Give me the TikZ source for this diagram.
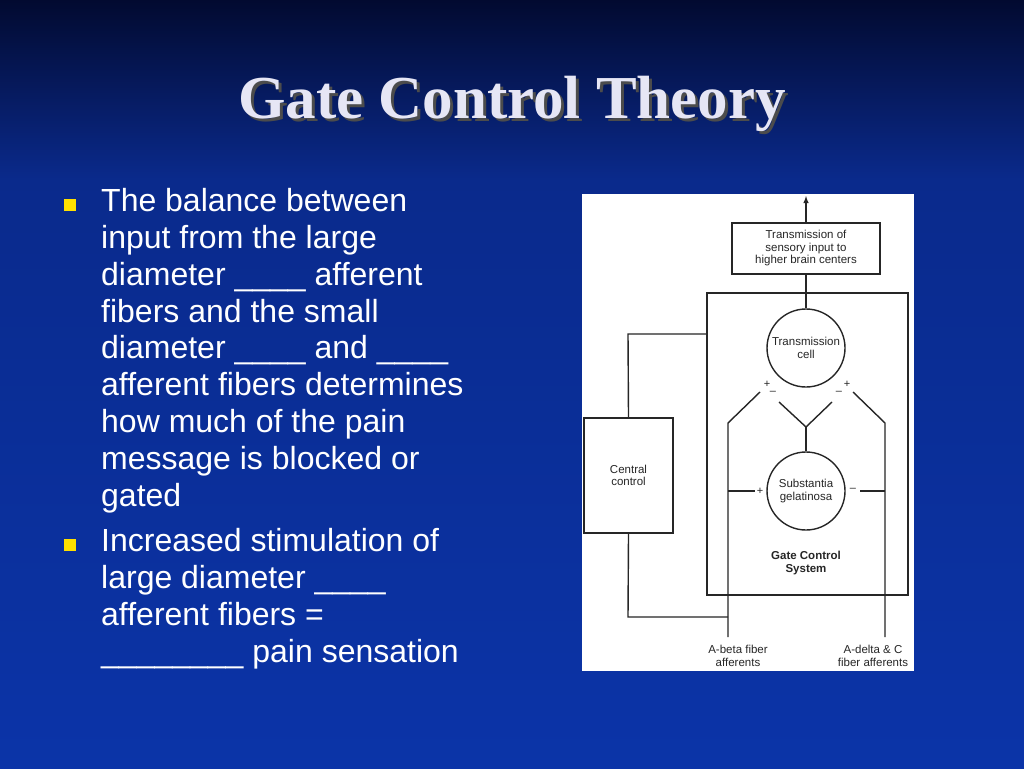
\documentclass[tikz,border=0pt]{standalone}
\usepackage{fontspec}
\setmainfont{Liberation Sans}
\newfontfamily\titlefont{Liberation Serif}
\definecolor{bgtop}{HTML}{020A30}
\definecolor{bgmid}{HTML}{0A2A8C}
\definecolor{bgbot}{HTML}{0B34A8}
\definecolor{titlec}{HTML}{E6E6F5}
\definecolor{bul}{HTML}{FFE000}
\begin{document}
\begin{tikzpicture}[x=1pt,y=-1pt,
  btxt/.style={anchor=west,text=white,font=\fontsize{32}{33}\selectfont,inner sep=0pt},
  ln/.style={line width=1.4pt,black!85},
  dtxt/.style={font=\fontsize{11.5}{12.5}\selectfont,text=black!85,align=center,inner sep=0pt},
  sgn/.style={font=\fontsize{11}{11}\selectfont,text=black!85,inner sep=0pt}]
\shade[top color=bgtop,bottom color=bgmid] (0,0) rectangle (1024,180);
\shade[top color=bgmid,bottom color=bgbot] (0,180) rectangle (1024,768);
\useasboundingbox (0,0) rectangle (1024,768);
% title
\node[text=black!70,font=\titlefont\bfseries\fontsize{61}{61}\selectfont] at (515,107) {Gate Control Theory};
\node (title) [text=titlec,font=\titlefont\bfseries\fontsize{61}{61}\selectfont] at (512,104) {Gate Control Theory};
% bullets
\fill[bul] (64,199) rectangle (76,211);
\fill[bul] (64,539) rectangle (76,551);
\foreach \t [count=\i] in {The balance between,input from the large,diameter \_\_\_\_ afferent,fibers and the small,diameter \_\_\_\_ and \_\_\_\_,afferent fibers determines,how much of the pain,message is blocked or,gated}
  \node[btxt] (b1l\i) at (101,{205+36.8*(\i-1)}) {\strut\t};
\foreach \t [count=\i] in {Increased stimulation of,large diameter \_\_\_\_,afferent fibers =,\_\_\_\_\_\_\_\_ pain sensation}
  \node[btxt] (b2l\i) at (101,{545+36.8*(\i-1)}) {\strut\t};
% diagram panel
\fill[white] (582,194) rectangle (914,671);
\node (top) [draw,ln,minimum width=148pt,minimum height=51pt,dtxt] at (806,248.5) {Transmission of\\sensory input to\\higher brain centers};
\coordinate (up) at (806,196);
\draw[ln,-latex] (top.north) -- (up);
\draw[ln] (707,293) rectangle (908,595);
\node (tc) [draw,ln,circle,minimum size=78pt,dtxt] at (806,348) {Transmission\\cell};
\node (sg) [draw,ln,circle,minimum size=78pt,dtxt] at (806,491) {Substantia\\gelatinosa};
\draw[ln] (top.south) -- (tc.north);
\node (cc) [draw,ln,minimum width=89pt,minimum height=115pt,dtxt] at (628.5,475.5) {Central\\control};
\draw[ln] (cc.north) -- (628,334) -- (707,334);
\draw[ln] (cc.south) -- (628,617) -- (728,617);
% afferents
\node (ab) [dtxt] at (738,656) {A-beta fiber\\afferents};
\node (ad) [dtxt] at (873,656) {A-delta \& C\\fiber afferents};
\draw[ln] (728,637) -- (728,423) -- (760,392);
\draw[ln] (885,637) -- (885,423) -- (853,392);
\draw[ln] (779,402) -- (806,427) -- (832,402);
\draw[ln] (806,427) -- (sg.north);
\draw[ln] (728,491) -- (755,491);
\draw[ln] (885,491) -- (860,491);
\node[sgn] at (760,491) {+};
\node[sgn] at (853,490) {--};
\node[sgn] at (767,384) {+};
\node[sgn] at (773,393) {--};
\node[sgn] at (839,393) {--};
\node[sgn] at (847,384) {+};
\node (gcs) [dtxt,font=\bfseries\fontsize{11.5}{12.5}\selectfont] at (806,563) {Gate Control\\System};
\end{tikzpicture}
\end{document}
